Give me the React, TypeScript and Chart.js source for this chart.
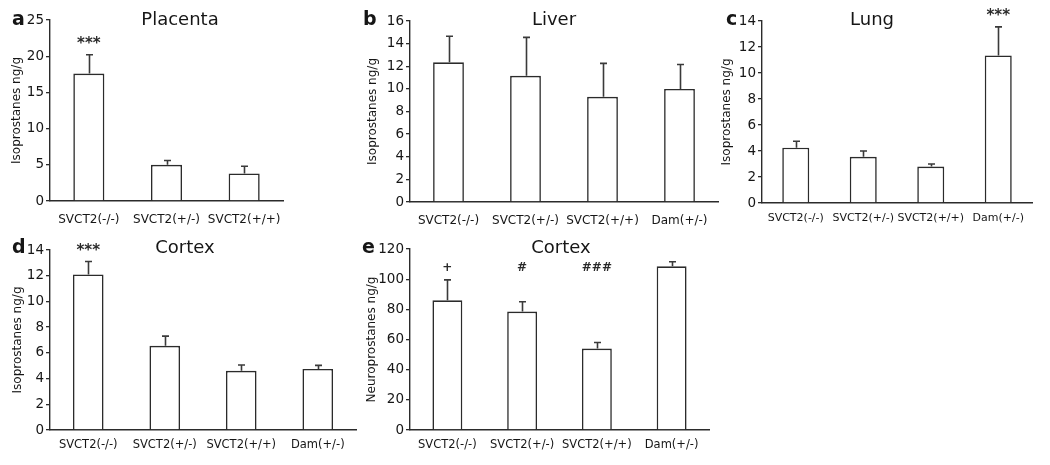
import React, { useEffect, useRef } from 'react';
import { Chart, registerables } from 'chart.js';

Chart.register(...registerables);

const FONT = '"DejaVu Sans", Verdana, sans-serif';
const LINE = '#2b2b2b';
const TEXT = '#161616';

// ---------- data ----------
const groups3 = ['SVCT2(-/-)', 'SVCT2(+/-)', 'SVCT2(+/+)'];
const groups4 = ['SVCT2(-/-)', 'SVCT2(+/-)', 'SVCT2(+/+)', 'Dam(+/-)'];

const placentaMean = [17.6, 5.0, 3.8];
const placentaSem = [2.6, 0.6, 1.0];
const placentaSig = ['***', '', ''];

const liverMean = [12.35, 11.15, 9.3, 10.0];
const liverSem = [2.3, 3.4, 2.95, 2.15];
const liverSig = ['', '', '', ''];

const lungMean = [4.25, 3.55, 2.8, 11.35];
const lungSem = [0.5, 0.45, 0.2, 2.2];
const lungSig = ['', '', '', '***'];

const cortexIsoMean = [12.1, 6.55, 4.6, 4.75];
const cortexIsoSem = [1.0, 0.75, 0.45, 0.28];
const cortexIsoSig = ['***', '', '', ''];

const cortexNeuroMean = [86, 78.5, 54, 108.5];
const cortexNeuroSem = [13.5, 6.5, 4, 3];
const cortexNeuroSig = ['+', '#', '###', ''];

const yMaxes = [25, 16, 14, 14, 120];
const ySteps = [5, 2, 2, 2, 20];
const panelLetters = ['a', 'b', 'c', 'd', 'e'];
const panelTitles = ['Placenta', 'Liver', 'Lung', 'Cortex', 'Cortex'];
const yTitles = [
  'Isoprostanes ng/g',
  'Isoprostanes ng/g',
  'Isoprostanes ng/g',
  'Isoprostanes ng/g',
  'Neuroprostanes ng/g',
];

// ---------- layout (page pixel coordinates) ----------
const layouts = [
  { canvas: { x: 0, y: 0, w: 300, h: 232 }, area: { l: 50, r: 283, t: 20, b: 201 }, yTitleX: 17, titleX: 180, titleY: 25, letterX: 12, letterY: 25, xPad: 12, xFont: 12, sigFont: 'bold 15px', sigGap: 7 },
  { canvas: { x: 350, y: 0, w: 372, h: 232 }, area: { l: 410, r: 718, t: 21, b: 202 }, yTitleX: 373, titleX: 554, titleY: 25, letterX: 363, letterY: 25, xPad: 12, xFont: 12, sigFont: 'bold 15px', sigGap: 7 },
  { canvas: { x: 712, y: 0, w: 338, h: 232 }, area: { l: 762, r: 1032, t: 21, b: 203 }, yTitleX: 727, titleX: 872, titleY: 25, letterX: 726, letterY: 25, xPad: 9, xFont: 11, sigFont: 'bold 15px', sigGap: 7 },
  { canvas: { x: 0, y: 232, w: 380, h: 233 }, area: { l: 50, r: 356, t: 250, b: 430 }, yTitleX: 18, titleX: 185, titleY: 253, letterX: 12, letterY: 253, xPad: 8, xFont: 11.5, sigFont: 'bold 15px', sigGap: 7 },
  { canvas: { x: 355, y: 232, w: 365, h: 233 }, area: { l: 410, r: 709, t: 249, b: 430 }, yTitleX: 372, titleX: 561, titleY: 253, letterX: 362, letterY: 253, xPad: 8, xFont: 11.5, sigFont: 'bold 12px', sigGap: 9 },
];

const panelData = [
  { labels: groups3, mean: placentaMean, sem: placentaSem, sig: placentaSig },
  { labels: groups4, mean: liverMean, sem: liverSem, sig: liverSig },
  { labels: groups4, mean: lungMean, sem: lungSem, sig: lungSig },
  { labels: groups4, mean: cortexIsoMean, sem: cortexIsoSem, sig: cortexIsoSig },
  { labels: groups4, mean: cortexNeuroMean, sem: cortexNeuroSem, sig: cortexNeuroSig },
];

const decoPlugin = {
  id: 'panelDeco',
  afterDatasetsDraw(chart: any, _args: any, opts: any) {
    const ctx = chart.ctx;
    const xs = chart.scales.x;
    const ys = chart.scales.y;
    const { mean, sem, sig, L } = opts;
    ctx.save();
    // error bars (upper half)
    ctx.strokeStyle = '#3a3a3a';
    ctx.lineWidth = 1.6;
    let minTop = Infinity;
    mean.forEach((m: number, i: number) => {
      const x = Math.round(xs.getPixelForValue(i)) + 0.5;
      const y0 = ys.getPixelForValue(m);
      const y1 = ys.getPixelForValue(m + sem[i]);
      if (sig[i]) minTop = Math.min(minTop, y1);
      ctx.beginPath();
      ctx.moveTo(x, y0);
      ctx.lineTo(x, y1);
      ctx.moveTo(x - 3.5, y1);
      ctx.lineTo(x + 3.5, y1);
      ctx.stroke();
    });
    // significance marks
    ctx.fillStyle = '#2a2a2a';
    ctx.font = `${L.sigFont} ${FONT}`;
    ctx.textAlign = 'center';
    ctx.textBaseline = 'alphabetic';
    sig.forEach((s: string, i: number) => {
      if (!s) return;
      ctx.fillText(s, xs.getPixelForValue(i), minTop - L.sigGap);
    });
    // title and panel letter
    ctx.fillStyle = TEXT;
    ctx.font = `18px ${FONT}`;
    ctx.fillText(opts.title, L.titleX - L.canvas.x, L.titleY - L.canvas.y);
    ctx.textAlign = 'left';
    ctx.font = `bold 19px ${FONT}`;
    ctx.fillText(opts.letter, L.letterX - L.canvas.x, L.letterY - L.canvas.y);
    ctx.restore();
  },
};

function Panel({ idx }: { idx: number }) {
  const ref = useRef<HTMLCanvasElement>(null);
  const L = layouts[idx];
  const D = panelData[idx];
  useEffect(() => {
    const cv = ref.current!;
    const c = L.canvas;
    const a = L.area;
    const padLeft = L.yTitleX - c.x - 7.2;
    const chart = new Chart(cv, {
      type: 'bar',
      data: {
        labels: D.labels,
        datasets: [
          {
            data: D.mean,
            backgroundColor: '#ffffff',
            borderColor: LINE,
            borderWidth: 1.6,
            barPercentage: 0.4,
            categoryPercentage: 1,
          },
        ],
      },
      options: {
        responsive: false,
        animation: false,
        devicePixelRatio: 1,
        layout: {
          padding: { left: padLeft, top: a.t - c.y, right: c.x + c.w - a.r, bottom: 0 },
        },
        plugins: {
          legend: { display: false },
          tooltip: { enabled: false },
          title: { display: false },
          panelDeco: {
            mean: D.mean,
            sem: D.sem,
            sig: D.sig,
            L,
            title: panelTitles[idx],
            letter: panelLetters[idx],
          },
        } as any,
        scales: {
          x: {
            grid: { display: false, drawTicks: false },
            border: { display: true, color: LINE, width: 1.4 },
            ticks: {
              font: { family: FONT, size: L.xFont },
              color: TEXT,
              padding: L.xPad,
              maxRotation: 0,
              autoSkip: false,
            },
            afterFit: (s: any) => {
              s.height = c.y + c.h - a.b;
            },
          },
          y: {
            min: 0,
            max: yMaxes[idx],
            ticks: {
              stepSize: ySteps[idx],
              font: { family: FONT, size: 13.5 },
              color: TEXT,
              padding: 2,
            },
            grid: { drawOnChartArea: false, drawTicks: true, tickLength: 4, color: LINE, lineWidth: 1.3 },
            border: { display: true, color: LINE, width: 1.4 },
            title: {
              display: true,
              text: yTitles[idx],
              font: { family: FONT, size: 12 },
              color: TEXT,
              padding: { top: 0, bottom: 0 },
            },
            afterFit: (s: any) => {
              s.width = a.l - c.x - padLeft;
            },
          },
        },
      } as any,
      plugins: [decoPlugin],
    });
    return () => chart.destroy();
  }, []);
  return (
    <canvas
      ref={ref}
      width={L.canvas.w}
      height={L.canvas.h}
      style={{
        position: 'absolute',
        left: L.canvas.x,
        top: L.canvas.y,
        width: L.canvas.w,
        height: L.canvas.h,
      }}
    />
  );
}

export default function App() {
  return (
    <div
      style={{
        position: 'fixed',
        left: 0,
        top: 0,
        width: 1050,
        height: 465,
        background: '#ffffff',
        overflow: 'hidden',
      }}
    >
      {layouts.map((_, i) => (
        <Panel key={i} idx={i} />
      ))}
    </div>
  );
}
